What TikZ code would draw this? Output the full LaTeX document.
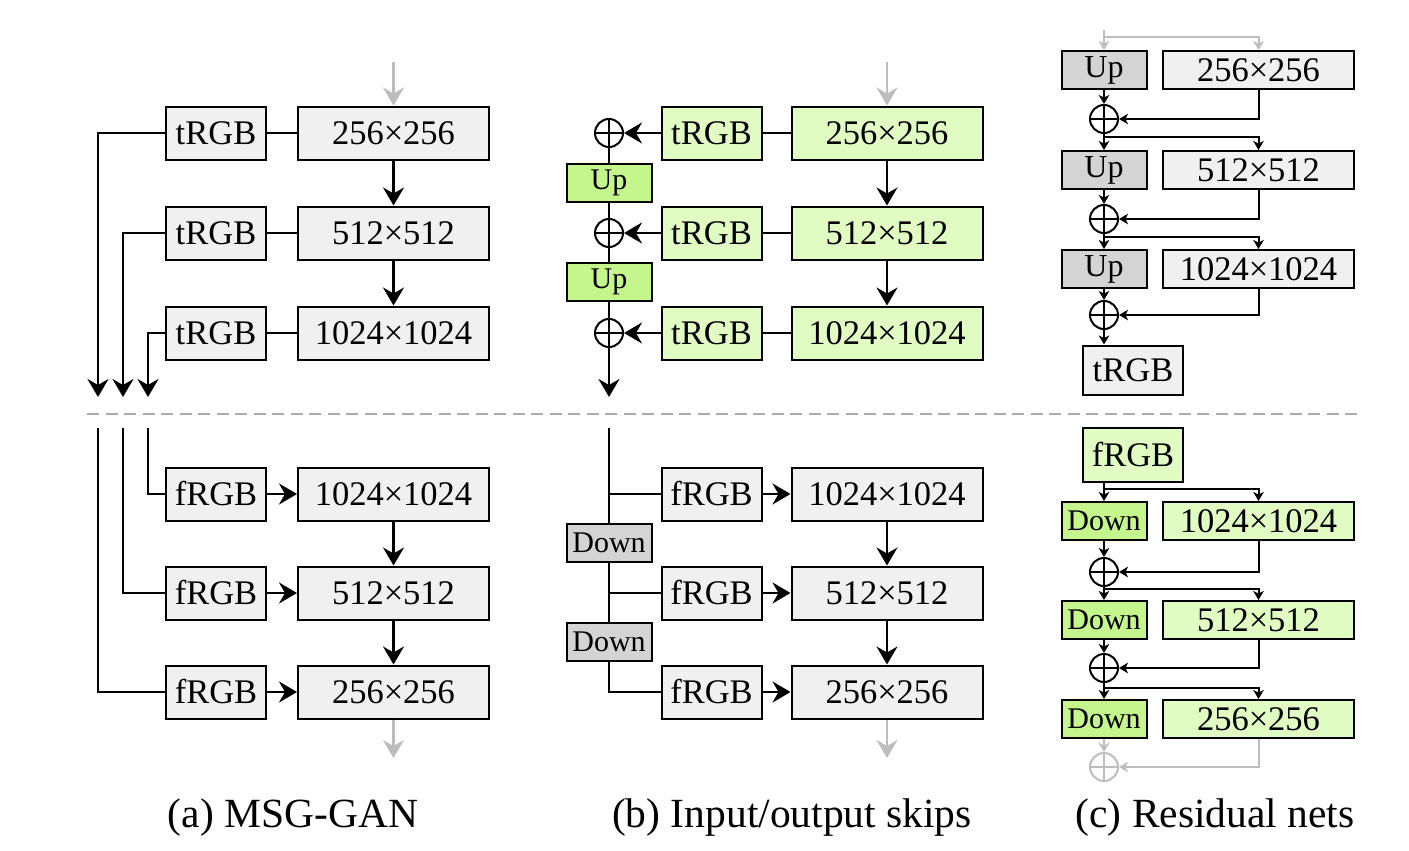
\documentclass[tikz,border=0pt]{standalone}
\usepackage{fontspec}
\setmainfont{Liberation Serif}
\usetikzlibrary{arrows.meta}
\definecolor{bgray}{HTML}{F0F0F0}
\definecolor{dgray}{HTML}{D4D4D4}
\definecolor{lgreen}{HTML}{E0FCC2}
\definecolor{bgreen}{HTML}{C5F68D}
\definecolor{agray}{HTML}{BDBDBD}
\definecolor{dashgray}{HTML}{ABABAB}
\tikzset{
  box/.style={draw, line width=2pt, fill=bgray, inner sep=0pt, font=\fontsize{34.5}{37}\selectfont},
  bigbox/.style={box, minimum width=191pt, minimum height=53pt},
  midbox/.style={box, minimum width=191pt, minimum height=38pt},
  rgbbox/.style={box, minimum width=100pt, minimum height=53pt},
  smallbox/.style={box, minimum width=85pt, minimum height=38pt, font=\fontsize{30}{32}\selectfont},
  plus/.style={circle, draw, line width=2pt, minimum size=28pt, inner sep=0pt, fill=white,
    path picture={\draw[line width=1.5pt] (path picture bounding box.north) -- (path picture bounding box.south)
      (path picture bounding box.west) -- (path picture bounding box.east);}},
  gplus/.style={plus, draw=agray, path picture={\draw[line width=1.5pt, agray] (path picture bounding box.north) -- (path picture bounding box.south)
      (path picture bounding box.west) -- (path picture bounding box.east);}},
  ln/.style={line width=2.2pt},
  arr/.style={ln, -{Stealth[length=18pt, width=21pt, inset=6pt]}},
  garr/.style={ln, draw=agray, line width=2.4pt, -{Stealth[length=18pt, width=21pt, inset=6pt, agray]}},
  sarr/.style={line width=2pt, -{Stealth[length=9pt, width=10.5pt, inset=2.5pt]}},
  gsarr/.style={line width=2pt, draw=agray, -{Stealth[length=9pt, width=10.5pt, inset=2.5pt, agray]}},
  captext/.style={anchor=base, font=\fontsize{41.5}{44}\selectfont},
}
\begin{document}
\begin{tikzpicture}[x=1pt, y=-1pt]
\useasboundingbox (0,0) rectangle (1409,851);

% ---------------- (a) top
\node[rgbbox] (at1) at (216,133) {tRGB};
\node[bigbox] (ab1) at (393.5,133) {256×256};
\node[rgbbox] (at2) at (216,233) {tRGB};
\node[bigbox] (ab2) at (393.5,233) {512×512};
\node[rgbbox] (at3) at (216,333) {tRGB};
\node[bigbox] (ab3) at (393.5,333) {1024×1024};
\coordinate (agin) at (393.5,62);
\coordinate (aout1) at (98,397);
\coordinate (aout2) at (123,397);
\coordinate (aout3) at (148,397);
\draw[garr] (agin) -- (ab1);
\draw[ln] (at1) -- (ab1);
\draw[ln] (at2) -- (ab2);
\draw[ln] (at3) -- (ab3);
\draw[arr] (ab1) -- (ab2);
\draw[arr] (ab2) -- (ab3);
\draw[arr] (at1.west) -| (aout1);
\draw[arr] (at2.west) -| (aout2);
\draw[arr] (at3.west) -| (aout3);

% ---------------- (a) bottom
\coordinate (ain1) at (148,428);
\coordinate (ain2) at (123,428);
\coordinate (ain3) at (98,428);
\node[rgbbox] (af1) at (216,494) {fRGB};
\node[bigbox] (ab4) at (393.5,494) {1024×1024};
\node[rgbbox] (af2) at (216,593) {fRGB};
\node[bigbox] (ab5) at (393.5,593) {512×512};
\node[rgbbox] (af3) at (216,692) {fRGB};
\node[bigbox] (ab6) at (393.5,692) {256×256};
\coordinate (agout) at (393.5,758);
\draw[ln] (ain1) |- (af1.west);
\draw[ln] (ain2) |- (af2.west);
\draw[ln] (ain3) |- (af3.west);
\draw[arr] (af1) -- (ab4);
\draw[arr] (af2) -- (ab5);
\draw[arr] (af3) -- (ab6);
\draw[arr] (ab4) -- (ab5);
\draw[arr] (ab5) -- (ab6);
\draw[garr] (ab6) -- (agout);

% ---------------- (b) top
\node[plus] (bp1) at (609,133) {};
\node[plus] (bp2) at (609,233) {};
\node[plus] (bp3) at (609,333) {};
\node[rgbbox, fill=lgreen] (bt1) at (711.5,133) {tRGB};
\node[bigbox, fill=lgreen] (bb1) at (887,133) {256×256};
\node[rgbbox, fill=lgreen] (bt2) at (711.5,233) {tRGB};
\node[bigbox, fill=lgreen] (bb2) at (887,233) {512×512};
\node[rgbbox, fill=lgreen] (bt3) at (711.5,333) {tRGB};
\node[bigbox, fill=lgreen] (bb3) at (887,333) {1024×1024};
\node[smallbox, fill=bgreen] (bu1) at (609,183) {Up};
\node[smallbox, fill=bgreen] (bu2) at (609,282) {Up};
\coordinate (bgin) at (887,62);
\coordinate (bout) at (609,397);
\draw[garr] (bgin) -- (bb1);
\draw[ln] (bt1) -- (bb1);
\draw[ln] (bt2) -- (bb2);
\draw[ln] (bt3) -- (bb3);
\draw[arr] (bt1) -- (bp1);
\draw[arr] (bt2) -- (bp2);
\draw[arr] (bt3) -- (bp3);
\draw[arr] (bb1) -- (bb2);
\draw[arr] (bb2) -- (bb3);
\draw[ln] (bp1) -- (bu1);
\draw[ln] (bu1) -- (bp2);
\draw[ln] (bp2) -- (bu2);
\draw[ln] (bu2) -- (bp3);
\draw[arr] (bp3) -- (bout);

% ---------------- (b) bottom
\coordinate (bin) at (609,428);
\node[rgbbox] (bf1) at (711.5,494) {fRGB};
\node[bigbox] (bb4) at (887,494) {1024×1024};
\node[rgbbox] (bf2) at (711.5,593) {fRGB};
\node[bigbox] (bb5) at (887,593) {512×512};
\node[rgbbox] (bf3) at (711.5,692) {fRGB};
\node[bigbox] (bb6) at (887,692) {256×256};
\node[smallbox, fill=dgray] (bd1) at (609,543) {Down};
\node[smallbox, fill=dgray] (bd2) at (609,642) {Down};
\coordinate (bgout) at (887,758);
\draw[ln] (bin) -- (bd1);
\draw[ln] (bin |- bf1) -- (bf1);
\draw[ln] (bd1) -- (bd2);
\draw[ln] (bin |- bf2) -- (bf2);
\draw[ln] (bd2.south) |- (bf3.west);
\draw[arr] (bf1) -- (bb4);
\draw[arr] (bf2) -- (bb5);
\draw[arr] (bf3) -- (bb6);
\draw[arr] (bb4) -- (bb5);
\draw[arr] (bb5) -- (bb6);
\draw[garr] (bb6) -- (bgout);

% ---------------- (c) top
\node[smallbox, fill=dgray, font=\fontsize{32}{34}\selectfont] (cu1) at (1104,70) {Up};
\node[midbox] (cb1) at (1258.5,70) {256×256};
\node[plus] (cp1) at (1104,119) {};
\node[smallbox, fill=dgray, font=\fontsize{32}{34}\selectfont] (cu2) at (1104,170) {Up};
\node[midbox] (cb2) at (1258.5,170) {512×512};
\node[plus] (cp2) at (1104,219) {};
\node[smallbox, fill=dgray, font=\fontsize{32}{34}\selectfont] (cu3) at (1104,269) {Up};
\node[midbox] (cb3) at (1258.5,269) {1024×1024};
\node[plus] (cp3) at (1104,315) {};
\node[rgbbox, minimum height=49pt] (ct) at (1133,370) {tRGB};
\coordinate (cin) at (1104,30);
\coordinate (cbr0) at (1104,37);
\coordinate (cbr1) at (1104,137);
\coordinate (cbr2) at (1104,237);
\draw[gsarr] (cin) -- (cu1);
\draw[gsarr] (cbr0) -| (cb1.north);
\draw[sarr] (cu1) -- (cp1);
\draw[sarr] (cb1.south) |- (cp1.east);
\draw[sarr] (cp1) -- (cu2);
\draw[sarr] (cbr1) -| (cb2.north);
\draw[sarr] (cu2) -- (cp2);
\draw[sarr] (cb2.south) |- (cp2.east);
\draw[sarr] (cp2) -- (cu3);
\draw[sarr] (cbr2) -| (cb3.north);
\draw[sarr] (cu3) -- (cp3);
\draw[sarr] (cb3.south) |- (cp3.east);
\draw[sarr] (cp3) -- (cp3 |- ct.north);

% ---------------- (c) bottom
\node[rgbbox, fill=lgreen, minimum height=54pt] (cf) at (1133,455) {fRGB};
\node[smallbox, fill=bgreen] (cd1) at (1104,521) {Down};
\node[midbox, fill=lgreen] (cb4) at (1258.5,521) {1024×1024};
\node[plus] (cp4) at (1104,572) {};
\node[smallbox, fill=bgreen] (cd2) at (1104,620) {Down};
\node[midbox, fill=lgreen] (cb5) at (1258.5,620) {512×512};
\node[plus] (cp5) at (1104,668) {};
\node[smallbox, fill=bgreen] (cd3) at (1104,719) {Down};
\node[midbox, fill=lgreen] (cb6) at (1258.5,719) {256×256};
\node[gplus] (cp6) at (1104,767) {};
\coordinate (cbr3) at (1104,489);
\coordinate (cbr4) at (1104,589);
\coordinate (cbr5) at (1104,688);
\draw[sarr] (cd1 |- cf.south) -- (cd1);
\draw[sarr] (cbr3) -| (cb4.north);
\draw[sarr] (cd1) -- (cp4);
\draw[sarr] (cb4.south) |- (cp4.east);
\draw[sarr] (cp4) -- (cd2);
\draw[sarr] (cbr4) -| (cb5.north);
\draw[sarr] (cd2) -- (cp5);
\draw[sarr] (cb5.south) |- (cp5.east);
\draw[sarr] (cp5) -- (cd3);
\draw[sarr] (cbr5) -| (cb6.north);
\draw[gsarr] (cd3) -- (cp6);
\draw[gsarr] (cb6.south) |- (cp6.east);

% ---------------- divider
\coordinate (dl) at (87,414);
\coordinate (dr) at (1358,414);
\draw[dashgray, line width=2.5pt, dash pattern=on 12pt off 6.5pt] (dl) -- (dr);

% ---------------- captions
\node[captext] (capa) at (293,827) {(a) MSG-GAN};
\node[captext] (capb) at (792,827) {(b) Input/output skips};
\node[captext] (capc) at (1215,827) {(c) Residual nets};
\end{tikzpicture}
\end{document}
